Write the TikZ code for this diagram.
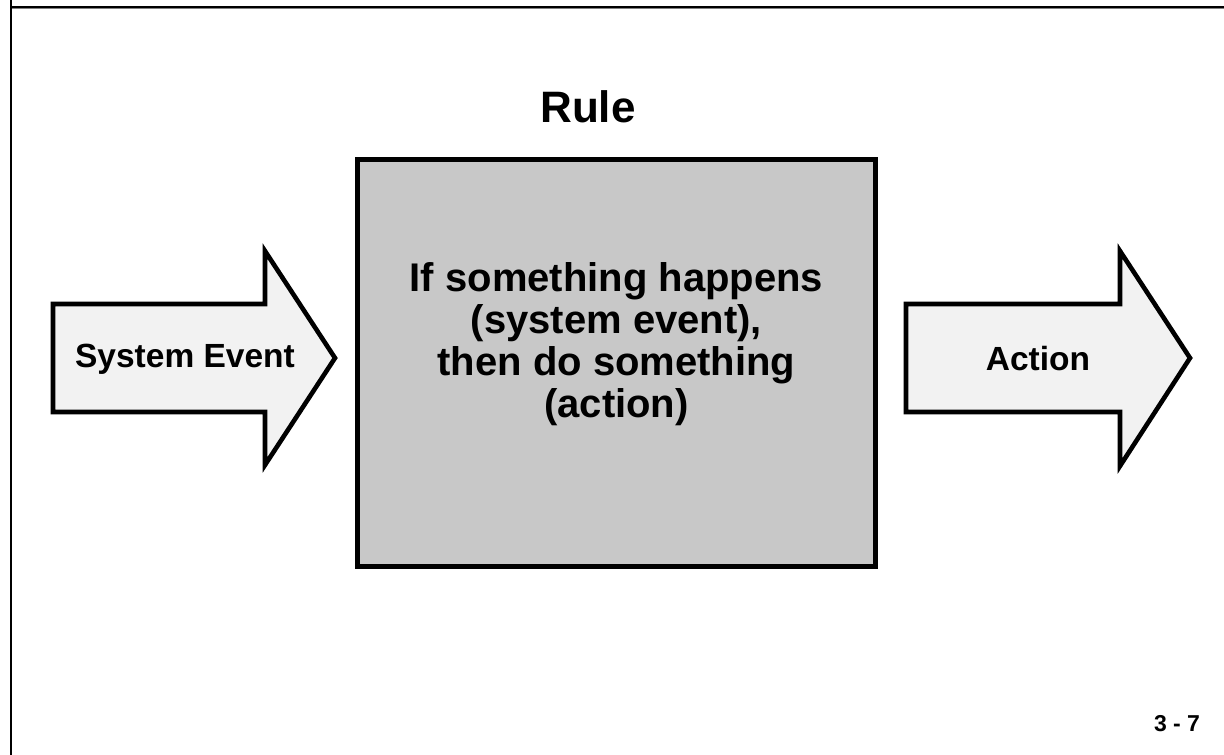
\documentclass[tikz,border=0pt]{standalone}
\usepackage{fontspec}
\setmainfont{Liberation Sans}
\begin{document}
\begin{tikzpicture}[x=1pt,y=-1pt,
  every node/.style={inner sep=0pt, outer sep=0pt},
  frameline/.style={line width=2.4pt, draw=black},
  rulebox/.style={draw=black, line width=5pt, fill=boxgray, minimum width=518pt, minimum height=407pt},
  bigarrow/.style={draw=black, line width=4.6pt, fill=arrowgray, line join=miter},
  boxtext/.style={font=\bfseries\fontsize{40}{42}\selectfont, align=center},
  arrowtext/.style={font=\bfseries\fontsize{33.5}{40}\selectfont},
  titletext/.style={font=\bfseries\fontsize{44}{52}\selectfont},
  pagenum/.style={font=\bfseries\fontsize{23}{28}\selectfont}]
\definecolor{boxgray}{RGB}{200,200,200}
\definecolor{arrowgray}{RGB}{242,242,242}
\definecolor{shadegray}{RGB}{128,128,128}

\useasboundingbox (0,0) rectangle (1224,755);

% slide frame: left rule and top rule with a thin shade below
\coordinate (fl0) at (11,0);
\coordinate (fl1) at (11,755);
\coordinate (ft0) at (12,7.2);
\coordinate (ft1) at (1224,7.2);
\coordinate (fs0) at (12,8.8);
\coordinate (fs1) at (1224,8.8);
\draw[frameline] (fl0) -- (fl1);
\draw[frameline] (ft0) -- (ft1);
\draw[shadegray, line width=1pt] (fs0) -- (fs1);

% title
\node[titletext, anchor=base] (title) at (588,122) {Rule};

% rule box
\node[rulebox] (rule) at (616.5,363) {};
\node[boxtext] (ruletext) at (616.5,344) {If something happens\\(system event),\\then do something\\(action)};

% incoming event arrow
\draw[bigarrow] (53,304) -- (265,304) -- (265,251) -- (335,358) -- (265,465) -- (265,412) -- (53,412) -- cycle;
\node[arrowtext] (event) at (185,359) {System Event};

% outgoing action arrow
\draw[bigarrow] (906,304) -- (1120,304) -- (1120,251) -- (1190,358) -- (1120,466) -- (1120,412) -- (906,412) -- cycle;
\node[arrowtext] (action) at (1038,359) {Action};

% page number
\node[pagenum, anchor=base] (page) at (1177,731) {3 - 7};
\end{tikzpicture}
\end{document}
